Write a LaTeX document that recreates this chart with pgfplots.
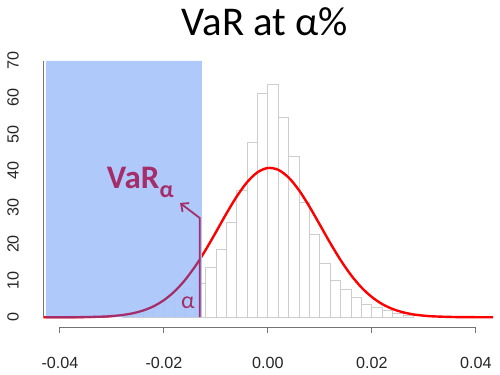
\documentclass[border=0pt]{standalone}
\usepackage{pgfplots}
\pgfplotsset{compat=1.18}
\usepackage{fontspec}
\setmainfont{Liberation Sans}
\newfontfamily\calfont{Carlito}
\usetikzlibrary{arrows.meta}
\definecolor{varblue}{RGB}{168,197,250}
\definecolor{varmaroon}{RGB}{165,45,105}
\definecolor{histgray}{RGB}{205,205,205}
\begin{document}
\begin{tikzpicture}
\useasboundingbox (0,0) rectangle (500bp,375bp);
\begin{axis}[
  at={(43.3bp,47.5bp)}, anchor=south west, scale only axis,
  width=449.7bp, height=276.8bp,
  xmin=-0.0432, xmax=0.0433, ymin=-2.8, ymax=72.8,
  scaled x ticks=false, scaled y ticks=false,
  axis x line*=bottom, axis y line*=left, axis line style={draw=none},
  tick style={draw=none}, tick align=inside,
  xtick={-0.04,-0.02,0,0.02,0.04}, xticklabels={-0.04,-0.02,0.00,0.02,0.04},
  ytick={0,10,20,30,40,50,60,70}, yticklabels={0,10,20,30,40,50,60,70},
  ticklabel style={font=\fontsize{16.2}{18}\selectfont, text=black!85},
  xticklabel style={anchor=base, yshift=-40.5bp},
  yticklabel style={rotate=90, anchor=center, yshift=30.3bp},
]
% histogram (density)
\addplot[ybar interval, draw=histgray, fill=none, line width=0.8bp] coordinates {
(-0.028,0.3) (-0.026,0.8) (-0.024,1.3) (-0.022,2.4) (-0.020,4.0) (-0.018,5.3)
(-0.016,7.9) (-0.014,9.3) (-0.012,13.7) (-0.010,18.6) (-0.008,25.8) (-0.006,34.6)
(-0.004,47.7) (-0.002,61.2) (0.000,63.5) (0.002,54.5) (0.004,43.9) (0.006,31.3)
(0.008,22.5) (0.010,14.8) (0.012,10.2) (0.014,7.6) (0.016,5.5) (0.018,3.4)
(0.020,2.7) (0.022,2.0) (0.024,1.0) (0.026,0.4) (0.028,0)
};
% normal density curve
\addplot[red, line width=2.4bp, smooth] coordinates {
(-0.0433,0.002) (-0.040,0.008) (-0.036,0.041) (-0.032,0.17) (-0.030,0.33)
(-0.028,0.61) (-0.026,1.08) (-0.024,1.84) (-0.022,2.99) (-0.020,4.67)
(-0.018,7.00) (-0.016,10.06) (-0.014,13.87) (-0.012,18.33) (-0.010,23.24)
(-0.008,28.27) (-0.006,32.96) (-0.004,36.89) (-0.002,39.59) (0.000,40.77)
(0.002,40.26) (0.004,38.14) (0.006,34.66) (0.008,30.20) (0.010,25.25)
(0.012,20.25) (0.014,15.58) (0.016,11.49) (0.018,8.13) (0.020,5.52)
(0.022,3.59) (0.024,2.25) (0.026,1.35) (0.028,0.77) (0.030,0.43)
(0.032,0.23) (0.036,0.056) (0.040,0.012) (0.0433,0.002)
};
% shaded tail region
\addplot[draw=none, fill=varblue, fill opacity=0.92] coordinates {
(-0.0427,0) (-0.0427,70) (-0.0127,70) (-0.0127,0)
} \closedcycle;
% tail part of curve
\addplot[varmaroon, line width=2.2bp, smooth] coordinates {
(-0.0427,0.003) (-0.040,0.008) (-0.036,0.041) (-0.032,0.17) (-0.030,0.33)
(-0.028,0.61) (-0.026,1.08) (-0.024,1.84) (-0.022,2.99) (-0.020,4.67)
(-0.018,7.00) (-0.016,10.06) (-0.014,13.87) (-0.0131,15.8)
};
% VaR marker
\addplot[varmaroon, line width=1.8bp, -{Straight Barb[length=6bp,width=11bp]}] coordinates {
(-0.0131,0) (-0.0131,27.1) (-0.0169,31.2)
};
\end{axis}
% R-style axes
\draw[black!55, line width=0.9bp] (59.9bp,47.5bp) -- (475.9bp,47.5bp);
\foreach \xx in {59.9,163.9,267.9,371.9,475.9}
  \draw[black!55, line width=0.9bp] (\xx bp,47.5bp) -- (\xx bp,42.3bp);
\draw[black!55, line width=0.9bp] (43.3bp,57.75bp) -- (43.3bp,314bp);
% texts
\node[anchor=base, inner sep=0pt, font=\calfont\fontsize{41}{45}\selectfont] at (265bp,339bp) {VaR at α\%};
\node[anchor=base west, inner sep=0pt, text=varmaroon, font=\calfont\bfseries\fontsize{33}{36}\selectfont] at (106.7bp,186.7bp) {VaR};
\node[anchor=base west, inner sep=0pt, text=varmaroon, font=\calfont\bfseries\fontsize{24}{26}\selectfont] at (159.5bp,177bp) {α};
\node[anchor=base west, inner sep=0pt, text=varmaroon, font=\calfont\fontsize{24}{26}\selectfont] at (181bp,66bp) {α};
\end{tikzpicture}
\end{document}
